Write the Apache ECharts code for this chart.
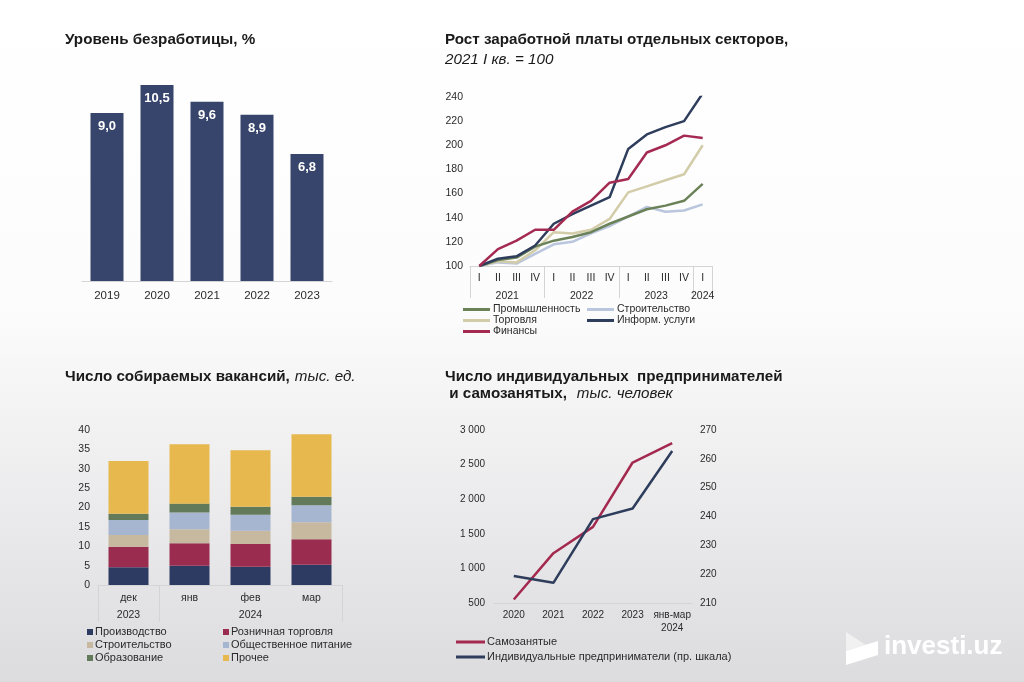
<!DOCTYPE html>
<html>
<head>
<meta charset="utf-8">
<script src="https://cdn.jsdelivr.net/npm/echarts@6/dist/echarts.min.js"></script>
<style>
html,body{margin:0;padding:0;}
#c{width:1024px;height:682px;}
</style>
</head>
<body>
<div id="c"></div>
<script>
// ---- Data ----
const unempYears = ['2019', '2020', '2021', '2022', '2023'];
const unempValues = [9.0, 10.5, 9.6, 8.9, 6.8];

const wageQuarters = ['I','II','III','IV','I','II','III','IV','I','II','III','IV','I'];
const wageYearLabels = ['2021', '2022', '2023', '2024'];
const wageIndustry = [100, 105, 107, 116, 121, 124, 128, 135, 141, 147, 150, 154, 168];
const wageConstruction = [100, 103, 102, 110, 118, 120, 127, 133, 141, 149, 145, 146, 151];
const wageTrade = [100, 104, 103, 113, 128, 127, 130, 139, 161, 166, 171, 176, 200];
const wageIT = [100, 106, 108, 117, 135, 143, 150, 157, 197, 209, 215, 220, 243];
const wageFinance = [100, 114, 121, 130, 130, 145, 154, 169, 172, 194, 200, 208, 206];

const vacMonths = ['дек', 'янв', 'фев', 'мар'];
const vacYearLabels = ['2023', '2024'];
const vacProduction = [4.6, 5.0, 4.7, 5.2];
const vacRetail = [5.3, 5.8, 5.9, 6.6];
const vacConstruction = [3.0, 3.6, 3.4, 4.4];
const vacCatering = [3.9, 4.3, 4.1, 4.4];
const vacEducation = [1.6, 2.3, 2.1, 2.2];
const vacOther = [13.6, 15.3, 14.6, 16.1];

const ipYears = ['2020', '2021', '2022', '2023', 'янв-мар\n2024'];
const selfEmployed = [550, 1220, 1600, 2530, 2810];
const entrepreneurs = [219.4, 217.0, 239.1, 242.8, 262.7];

// ---- Styles ----
const FONT = '"Liberation Sans", Arial, sans-serif';
const TXT = '#2a2a2a';
const AXL = '#d4d4d6';
const fmtThousands = v => String(v).replace(/\B(?=(\d{3})+(?!\d))/g, ' ');

const chart = echarts.init(document.getElementById('c'), null, {renderer: 'canvas'});

const TS = 15.2;
const titleRich = {
  b: {fontFamily: FONT, fontWeight: 'bold', fontSize: TS, color: '#1a1a1a', lineHeight: 17},
  i: {fontFamily: FONT, fontStyle: 'italic', fontWeight: 'normal', fontSize: TS, color: '#1a1a1a', lineHeight: 17}
};
const titleRich2 = {
  b: {fontFamily: FONT, fontWeight: 'bold', fontSize: TS, color: '#1a1a1a', lineHeight: 20},
  i: {fontFamily: FONT, fontStyle: 'italic', fontWeight: 'normal', fontSize: TS, color: '#1a1a1a', lineHeight: 20}
};

const option = {
  animation: false,
  backgroundColor: {
    type: 'linear', x: 0, y: 0, x2: 0, y2: 1,
    colorStops: [
      {offset: 0, color: '#ffffff'},
      {offset: 0.45, color: '#fcfcfc'},
      {offset: 1, color: '#dcdcdf'}
    ]
  },
  textStyle: {fontFamily: FONT},
  title: [
    {left: 60, top: 26.5, text: '{b|Уровень безработицы, %}', textStyle: {rich: titleRich}},
    {left: 440, top: 25, text: '{b|Рост заработной платы отдельных секторов,}\n{i|2021 I кв. = 100}', textStyle: {rich: titleRich2}},
    {left: 60, top: 363, text: '{b|Число собираемых вакансий,} {i|тыс. ед.}', textStyle: {rich: titleRich}},
    {left: 440, top: 363, text: '{b|Число индивидуальных  предпринимателей}\n{b| и самозанятых,}  {i|тыс. человек}', textStyle: {rich: titleRich}}
  ],
  legend: [
    {
      left: 463, top: 304, padding: 0, orient: 'vertical', itemGap: 0, itemWidth: 27, itemHeight: 3, icon: 'rect',
      textStyle: {fontFamily: FONT, fontSize: 10.5, color: TXT, lineHeight: 10.5, padding: [0, 0, 0, -2]},
      data: ['Промышленность', 'Торговля', 'Финансы']
    },
    {
      left: 587, top: 304, padding: 0, orient: 'vertical', itemGap: 0, itemWidth: 27, itemHeight: 3, icon: 'rect',
      textStyle: {fontFamily: FONT, fontSize: 10.5, color: TXT, lineHeight: 10.5, padding: [0, 0, 0, -2]},
      data: ['Строительство', 'Информ. услуги']
    },
    {
      left: 87, top: 626, padding: 0, orient: 'vertical', itemGap: 1, itemWidth: 6, itemHeight: 6, icon: 'rect',
      textStyle: {fontFamily: FONT, fontSize: 11, color: TXT, lineHeight: 12, padding: [0, 0, 0, -3]},
      data: ['Производство', 'Строительство ', 'Образование']
    },
    {
      left: 223, top: 626, padding: 0, orient: 'vertical', itemGap: 1, itemWidth: 6, itemHeight: 6, icon: 'rect',
      textStyle: {fontFamily: FONT, fontSize: 11, color: TXT, lineHeight: 12, padding: [0, 0, 0, -3]},
      data: ['Розничная торговля', 'Общественное питание', 'Прочее']
    },
    {
      left: 456, top: 635.5, padding: 0, orient: 'vertical', itemGap: 2, itemWidth: 29, itemHeight: 3, icon: 'rect',
      textStyle: {fontFamily: FONT, fontSize: 11, color: TXT, lineHeight: 13, padding: [0, 0, 0, -3]},
      data: ['Самозанятые', 'Индивидуальные предприниматели (пр. шкала)']
    }
  ],
  grid: [
    {left: 82, right: 692, top: 57, bottom: 401},
    {left: 470, right: 312, top: 97, bottom: 416},
    {left: 98, right: 682, top: 430, bottom: 97},
    {left: 494, right: 332, top: 430, bottom: 79}
  ],
  xAxis: [
    // 0: unemployment
    {
      type: 'category', gridIndex: 0, data: unempYears,
      axisLine: {lineStyle: {color: AXL}}, axisTick: {show: false},
      axisLabel: {color: TXT, fontSize: 11.5, margin: 9, fontFamily: FONT}
    },
    // 1: wages quarters
    {
      type: 'category', gridIndex: 1, data: wageQuarters, boundaryGap: true,
      axisLine: {lineStyle: {color: AXL}}, axisTick: {show: false},
      axisLabel: {color: TXT, fontSize: 10.5, margin: 7, interval: 0, fontFamily: FONT}
    },
    // 2: wages year groups
    {
      type: 'value', gridIndex: 1, min: 0, max: 13, position: 'bottom',
      axisLine: {show: false}, splitLine: {show: false},
      axisTick: {show: true, length: 32, lineStyle: {color: AXL}, customValues: [0, 4, 8, 12, 13]},
      axisLabel: {
        color: TXT, fontSize: 10.5, margin: 25, fontFamily: FONT,
        customValues: [2, 6, 10, 12.5],
        formatter: v => ({2: wageYearLabels[0], 6: wageYearLabels[1], 10: wageYearLabels[2], 12.5: wageYearLabels[3]})[v] || ''
      }
    },
    // 3: vacancies months
    {
      type: 'category', gridIndex: 2, data: vacMonths,
      axisLine: {lineStyle: {color: AXL}}, axisTick: {show: false},
      axisLabel: {color: TXT, fontSize: 10.5, margin: 8, fontFamily: FONT}
    },
    // 4: vacancies year groups
    {
      type: 'value', gridIndex: 2, min: 0, max: 4, position: 'bottom',
      axisLine: {show: false}, splitLine: {show: false},
      axisTick: {show: true, length: 37, lineStyle: {color: AXL}, customValues: [0, 1, 4]},
      axisLabel: {
        color: TXT, fontSize: 10.5, margin: 25, fontFamily: FONT,
        customValues: [0.5, 2.5],
        formatter: v => ({0.5: vacYearLabels[0], 2.5: vacYearLabels[1]})[v] || ''
      }
    },
    // 5: IP years
    {
      type: 'category', gridIndex: 3, data: ipYears,
      axisLine: {lineStyle: {color: AXL}}, axisTick: {show: false},
      axisLabel: {color: TXT, fontSize: 10, margin: 6, interval: 0, lineHeight: 13, fontFamily: FONT}
    }
  ],
  yAxis: [
    {type: 'value', gridIndex: 0, min: 0, max: 12, show: false},
    {
      type: 'value', gridIndex: 1, min: 100, max: 240, interval: 20,
      axisLine: {show: false}, axisTick: {show: false}, splitLine: {show: false},
      axisLabel: {color: TXT, fontSize: 10.5, margin: 7, fontFamily: FONT}
    },
    {
      type: 'value', gridIndex: 2, min: 0, max: 40, interval: 5,
      axisLine: {show: false}, axisTick: {show: false}, splitLine: {show: false},
      axisLabel: {color: TXT, fontSize: 10.5, margin: 8, fontFamily: FONT}
    },
    {
      type: 'value', gridIndex: 3, min: 500, max: 3000, interval: 500,
      axisLine: {show: false}, axisTick: {show: false}, splitLine: {show: false},
      axisLabel: {color: TXT, fontSize: 10, margin: 9, fontFamily: FONT, formatter: fmtThousands}
    },
    {
      type: 'value', gridIndex: 3, min: 210, max: 270, interval: 10, position: 'right',
      axisLine: {show: false}, axisTick: {show: false}, splitLine: {show: false},
      axisLabel: {color: TXT, fontSize: 10, margin: 8, fontFamily: FONT}
    }
  ],
  series: [
    {
      type: 'bar', name: 'Уровень безработицы', xAxisIndex: 0, yAxisIndex: 0, data: unempValues,
      barWidth: 33, itemStyle: {color: '#37446b'},
      label: {
        show: true, position: 'insideTop', distance: 7, color: '#ffffff', fontWeight: 'bold', fontSize: 13,
        fontFamily: FONT, formatter: p => p.value.toFixed(1).replace('.', ',')
      }
    },
    {type: 'line', name: 'Промышленность', xAxisIndex: 1, yAxisIndex: 1, data: wageIndustry, symbol: 'none', lineStyle: {width: 2.5, color: '#6b8259'}, itemStyle: {color: '#6b8259'}, z: 3},
    {type: 'line', name: 'Строительство', xAxisIndex: 1, yAxisIndex: 1, data: wageConstruction, symbol: 'none', lineStyle: {width: 2.5, color: '#b9c6de'}, itemStyle: {color: '#b9c6de'}, z: 2},
    {type: 'line', name: 'Торговля', xAxisIndex: 1, yAxisIndex: 1, data: wageTrade, symbol: 'none', lineStyle: {width: 2.5, color: '#d3cca9'}, itemStyle: {color: '#d3cca9'}, z: 2},
    {type: 'line', name: 'Информ. услуги', xAxisIndex: 1, yAxisIndex: 1, data: wageIT, symbol: 'none', lineStyle: {width: 2.5, color: '#2f3d5c'}, itemStyle: {color: '#2f3d5c'}, z: 4},
    {type: 'line', name: 'Финансы', xAxisIndex: 1, yAxisIndex: 1, data: wageFinance, symbol: 'none', lineStyle: {width: 2.5, color: '#a42a52'}, itemStyle: {color: '#a42a52'}, z: 4},

    {type: 'bar', name: 'Производство', xAxisIndex: 3, yAxisIndex: 2, stack: 'v', data: vacProduction, barWidth: 40, itemStyle: {color: '#2d3b63'}},
    {type: 'bar', name: 'Розничная торговля', xAxisIndex: 3, yAxisIndex: 2, stack: 'v', data: vacRetail, barWidth: 40, itemStyle: {color: '#9a2d4f'}},
    {type: 'bar', name: 'Строительство ', xAxisIndex: 3, yAxisIndex: 2, stack: 'v', data: vacConstruction, barWidth: 40, itemStyle: {color: '#c7b9a0'}},
    {type: 'bar', name: 'Общественное питание', xAxisIndex: 3, yAxisIndex: 2, stack: 'v', data: vacCatering, barWidth: 40, itemStyle: {color: '#a6b5d0'}},
    {type: 'bar', name: 'Образование', xAxisIndex: 3, yAxisIndex: 2, stack: 'v', data: vacEducation, barWidth: 40, itemStyle: {color: '#627a5a'}},
    {type: 'bar', name: 'Прочее', xAxisIndex: 3, yAxisIndex: 2, stack: 'v', data: vacOther, barWidth: 40, itemStyle: {color: '#e6b84e'}},

    {type: 'line', name: 'Самозанятые', xAxisIndex: 5, yAxisIndex: 3, data: selfEmployed, symbol: 'none', lineStyle: {width: 2.5, color: '#a3294f'}, itemStyle: {color: '#a3294f'}},
    {type: 'line', name: 'Индивидуальные предприниматели (пр. шкала)', xAxisIndex: 5, yAxisIndex: 4, data: entrepreneurs, symbol: 'none', lineStyle: {width: 2.5, color: '#2f3d5c'}, itemStyle: {color: '#2f3d5c'}}
  ],
  graphic: [
    {type: 'polygon', shape: {points: [[846, 632], [866, 645], [846, 651]]}, style: {fill: 'rgba(255,255,255,0.55)'}, silent: true},
    {type: 'polygon', shape: {points: [[846, 651], [878, 641], [878, 655], [846, 665]]}, style: {fill: '#ffffff'}, silent: true},
    {type: 'text', left: 884, top: 634, style: {text: 'investi.uz', fill: '#ffffff', font: 'bold 26px "Liberation Sans", Arial, sans-serif'}, silent: true}
  ]
};

chart.setOption(option);
</script>
</body>
</html>
